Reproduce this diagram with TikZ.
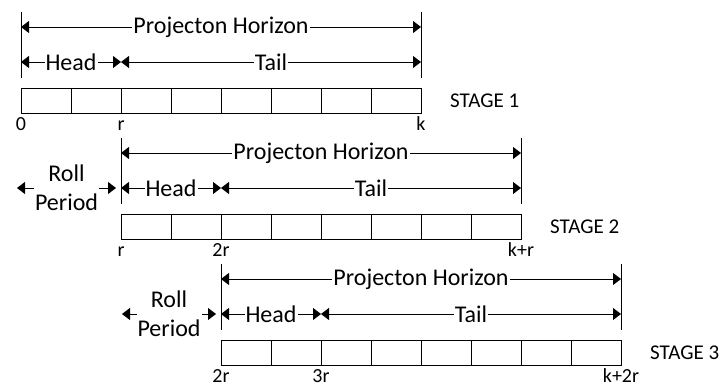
\documentclass[tikz,border=0pt]{standalone}
\usepackage{fontspec}
\setmainfont{Carlito}
\usetikzlibrary{arrows.meta,positioning}

\begin{document}
\begin{tikzpicture}[x=1pt,y=1pt]
\tikzstyle{lbl}=[fill=white, inner sep=1pt, font=\fontsize{24}{29}\selectfont]
\tikzstyle{tick}=[anchor=north, inner sep=1pt, text height=16pt, text depth=0pt, font=\fontsize{20}{24}\selectfont]
\tikzstyle{stage}=[anchor=west, inner sep=0pt, font=\fontsize{21}{25}\selectfont]
\tikzstyle{cell}=[rectangle, draw=black, line width=0.9pt, minimum width=50pt, minimum height=25pt, inner sep=0pt, outer sep=0pt]
\tikzstyle{bound}=[line width=1pt]
\tikzstyle{span}=[line width=0.9pt, {Triangle[length=8pt,width=12pt]}-{Triangle[length=8pt,width=12pt]}]
\useasboundingbox (0,0) rectangle (721,-390);

\foreach \s/\la/\lb/\lc in {1/0/r/k,2/r/2r/k+r,3/2r/3r/k+2r}{
	\pgfmathsetmacro{\dx}{100*(\s-1)}
	\pgfmathsetmacro{\dy}{-126*(\s-1)}
	% limits of the horizon
	\coordinate (lt\s) at (21+\dx,-12+\dy);
	\coordinate (lb\s) at (21+\dx,-78+\dy);
	\coordinate (rt\s) at (421+\dx,-12+\dy);
	\coordinate (rb\s) at (421+\dx,-78+\dy);
	\coordinate (hl\s) at (21+\dx,-27+\dy);
	\coordinate (hr\s) at (421+\dx,-27+\dy);
	\coordinate (ml\s) at (21+\dx,-62+\dy);
	\coordinate (mm\s) at (121+\dx,-62+\dy);
	\coordinate (mr\s) at (421+\dx,-62+\dy);
	% periods
	\foreach \c in {1,...,8}
		\node[cell] (c\s\c) at (\dx-4+50*\c,\dy-100.5) {};
	\node[tick] (a\s) at (c\s1.south west) {\la};
	\node[tick] (b\s) at (c\s3.south west) {\lb};
	\node[tick] (k\s) at (c\s8.south east) {\lc};
	\node[stage] (st\s) at ([xshift=29pt]c\s8.east) {STAGE \s};

	\draw[bound] (lt\s) -- (lb\s);
	\draw[bound] (rt\s) -- (rb\s);
	\draw[span] (hl\s) -- node[lbl] (ph\s) {Projecton Horizon} (hr\s);
	\draw[span] (ml\s) -- node[lbl] (hd\s) {Head} (mm\s);
	\draw[span] (mm\s) -- node[lbl] (tl\s) {Tail} (mr\s);
}

% roll periods
\coordinate (rl2) at (17,-188);
\coordinate (rr2) at (116,-188);
\coordinate (rl3) at (122,-314);
\coordinate (rr3) at (216,-314);
\draw[span] (rl2) -- node[lbl, align=center] (rp2) {Roll\\Period} (rr2);
\draw[span] (rl3) -- node[lbl, align=center] (rp3) {Roll\\Period} (rr3);

\end{tikzpicture}
\end{document}
